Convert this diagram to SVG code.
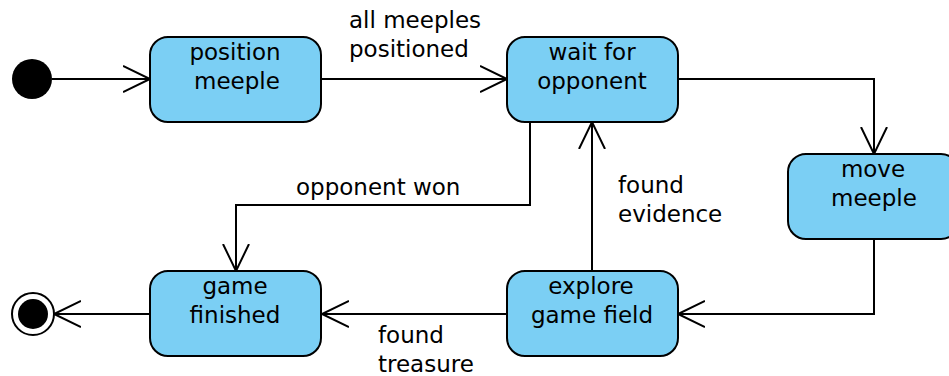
<svg xmlns="http://www.w3.org/2000/svg" width="949" height="376" viewBox="0 0 949 376">
<style>
.st{fill:#7bcff4;stroke:#000;stroke-width:2}
.t{font-family:"DejaVu Sans",sans-serif;font-size:23px;fill:#000}
.c{text-anchor:middle}
.ln{fill:none;stroke:#000;stroke-width:2}
</style>
<defs>
<marker id="ah" markerUnits="userSpaceOnUse" markerWidth="30" markerHeight="30" refX="27" refY="14" orient="auto">
<path d="M0,1 L27,14 L0,27" fill="none" stroke="#000" stroke-width="2"/>
</marker>
</defs>
<g id="connectors">
<path class="ln" d="M52,79 H150" marker-end="url(#ah)"/>
<path class="ln" d="M322,79 H507" marker-end="url(#ah)"/>
<path class="ln" d="M678,79 H874 V154" marker-end="url(#ah)"/>
<path class="ln" d="M874,239 V314 H678" marker-end="url(#ah)"/>
<path class="ln" d="M592,271 V122" marker-end="url(#ah)"/>
<path class="ln" d="M530,122 V205 H236 V271" marker-end="url(#ah)"/>
<path class="ln" d="M507,314 H322" marker-end="url(#ah)"/>
<path class="ln" d="M150,314 H54" marker-end="url(#ah)"/>
<text class="t" x="349" y="28">all meeples</text>
<text class="t" x="349" y="57">positioned</text>
<text class="t" x="618" y="193">found</text>
<text class="t" x="618" y="222">evidence</text>
<text class="t" x="296" y="195">opponent won</text>
<text class="t" x="378" y="343">found</text>
<text class="t" x="378" y="372">treasure</text>
</g>
<g id="initial"><circle cx="32" cy="79" r="20" fill="#000"/></g>
<g id="final"><circle cx="33" cy="314" r="21" fill="#fff" stroke="#000" stroke-width="2"/><circle cx="33" cy="314" r="15" fill="#000"/></g>
<g id="position-meeple"><rect class="st" x="150" y="37" width="171" height="85" rx="18"/><text class="t c" x="235" y="60">position</text><text class="t c" x="237" y="89">meeple</text></g>
<g id="wait-for-opponent"><rect class="st" x="507" y="37" width="171" height="85" rx="18"/><text class="t c" x="592" y="60">wait for</text><text class="t c" x="592" y="89">opponent</text></g>
<g id="move-meeple"><rect class="st" x="788" y="154" width="171" height="85" rx="18"/><text class="t c" x="873" y="177">move</text><text class="t c" x="874" y="206">meeple</text></g>
<g id="explore-game-field"><rect class="st" x="507" y="271" width="171" height="85" rx="18"/><text class="t c" x="591" y="294">explore</text><text class="t c" x="592" y="323">game field</text></g>
<g id="game-finished"><rect class="st" x="150" y="271" width="171" height="85" rx="18"/><text class="t c" x="235" y="294">game</text><text class="t c" x="235" y="323">finished</text></g>
</svg>
